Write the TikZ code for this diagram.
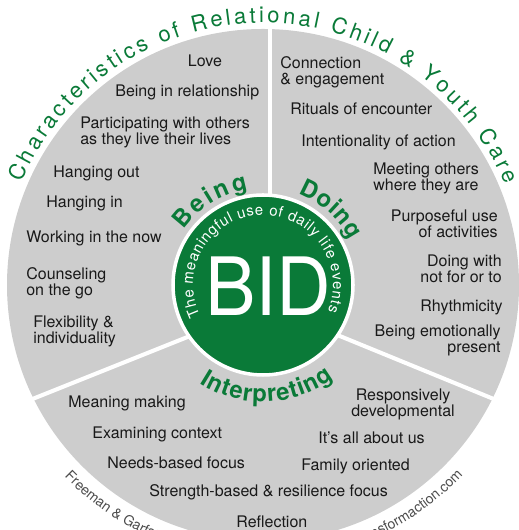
\documentclass[tikz,border=0pt]{standalone}
\usepackage{fontspec}
\setmainfont{TeX Gyre Heros}
\usetikzlibrary{calc,decorations.text}

\definecolor{bidgreen}{RGB}{10,122,56}
\definecolor{wheelgray}{RGB}{205,205,205}

\newcommand{\itemfont}{\fontsize{9.1}{9.2}\selectfont}
\newcommand{\titlefont}{\fontsize{12.5}{14}\selectfont}
\newcommand{\modefont}{\fontsize{13.6}{15}\selectfont\bfseries}
\newcommand{\innerfont}{\fontsize{8.5}{10}\selectfont}
\newcommand{\creditfont}{\fontsize{8}{9}\selectfont}

\tikzset{
  item/.style={font=\itemfont, inner sep=0pt, text=black!90},
  divider/.style={white, line width=2.3pt},
  arctext/.style={decorate, decoration={text along path, #1}},
}

\begin{document}
\begin{tikzpicture}[x=0.02cm, y=0.02cm]
    \useasboundingbox (0,0) rectangle (518,530);
    \coordinate (cen) at (263,245);

    % wheel and the three sectors
    \fill[wheelgray] (cen) circle[radius=256];
    \draw[divider] (270,510) -- (270,330);
    \draw[divider] (25,128) -- (200,198);
    \draw[divider] (501,128) -- (330,198);

    % BID hub
    \filldraw[fill=bidgreen, draw=white, line width=2pt] (cen) circle[radius=90];
    \node[font=\fontsize{45.8}{46}\selectfont, text=white, inner sep=0pt] (bid) at (268.5,244) {\scalebox{0.94}[1]{BID}};
    \path[arctext={text={|\innerfont|The meaningful use of daily life events}, text color=white, text align={fit to path}}]
        ($(cen)+(206:70)$) arc[start angle=206, end angle=-22, radius=70];

    % mode labels round the hub
    \path[arctext={text={|\modefont|Being}, text color=bidgreen, text align={fit to path}}]
        ($(cen)+(145:97)$) arc[start angle=145, end angle=99, radius=97];
    \path[arctext={text={|\modefont|Doing}, text color=bidgreen, text align={fit to path}}]
        ($(cen)+(69:98)$) arc[start angle=69, end angle=27, radius=98];
    \path[arctext={text={|\modefont|Interpreting}, text color=bidgreen, text align={fit to path}}]
        ($(cen)+(237:117)$) arc[start angle=237, end angle=307, radius=117];

    % title over the wheel
    \path[arctext={text={|\titlefont|Characteristics of Relational Child {\&} Youth Care}, text color=bidgreen, text align={fit to path}}]
        ($(cen)+(157:262)$) arc[start angle=157, end angle=22.5, radius=262];

    % credits under the wheel
    \path[arctext={text={|\creditfont|Freeman {\&} Garfat}, text color=black!70, text align=left}]
        ($(cen)+(224:276)$) arc[start angle=224, end angle=270, radius=276];
    \path[arctext={text={|\creditfont|www.transformaction.com}, text color=black!70, text align=right}]
        ($(cen)+(270:276)$) arc[start angle=270, end angle=316.5, radius=276];

    % Being (multi-line nodes sit on their last baseline)
    \node[item, anchor=base] (love) at (205,463) {Love};
    \node[item, anchor=base west] (relation) at (115,433) {Being in relationship};
    \node[item, anchor=base west, align=left] (participate) at (80,385) {Participating with others\\as they live their lives};
    \node[item, anchor=base west] (hangout) at (53,352) {Hanging out};
    \node[item, anchor=base west] (hangin) at (46,322) {Hanging in};
    \node[item, anchor=base west] (worknow) at (26,287) {Working in the now};
    \node[item, anchor=base west, align=left] (counsel) at (26,234) {Counseling\\on the go};
    \node[item, anchor=base west, align=left] (flex) at (33,186) {Flexibility \&\\individuality};

    % Doing
    \node[item, anchor=base west, align=left] (connect) at (280,445) {Connection\\\& engagement};
    \node[item, anchor=base west] (rituals) at (290,415) {Rituals of encounter};
    \node[item, anchor=base west] (intent) at (301,383) {Intentionality of action};
    \node[item, anchor=base west, align=left] (meeting) at (373,339) {Meeting others\\where they are};
    \node[item, anchor=base east, align=right] (purpose) at (498,292) {Purposeful use\\of activities};
    \node[item, anchor=base east, align=right] (doingwith) at (502,247) {Doing with\\not for or to};
    \node[item, anchor=base east] (rhythm) at (503,218) {Rhythmicity};
    \node[item, anchor=base east, align=right] (emotion) at (501,177) {Being emotionally\\present};

    % Interpreting
    \node[item, anchor=base west] (meaning) at (68,122) {Meaning making};
    \node[item, anchor=base west] (context) at (92,91) {Examining context};
    \node[item, anchor=base west] (needs) at (107,61) {Needs-based focus};
    \node[item, anchor=base west] (strength) at (149,33) {Strength-based \& resilience focus};
    \node[item, anchor=base west] (reflect) at (236,3) {Reflection};
    \node[item, anchor=base, align=center] (respond) at (403,113) {Responsively\\developmental};
    \node[item, anchor=base west] (allabout) at (318,86) {It's all about us};
    \node[item, anchor=base west] (family) at (301,59) {Family oriented};
\end{tikzpicture}
\end{document}
